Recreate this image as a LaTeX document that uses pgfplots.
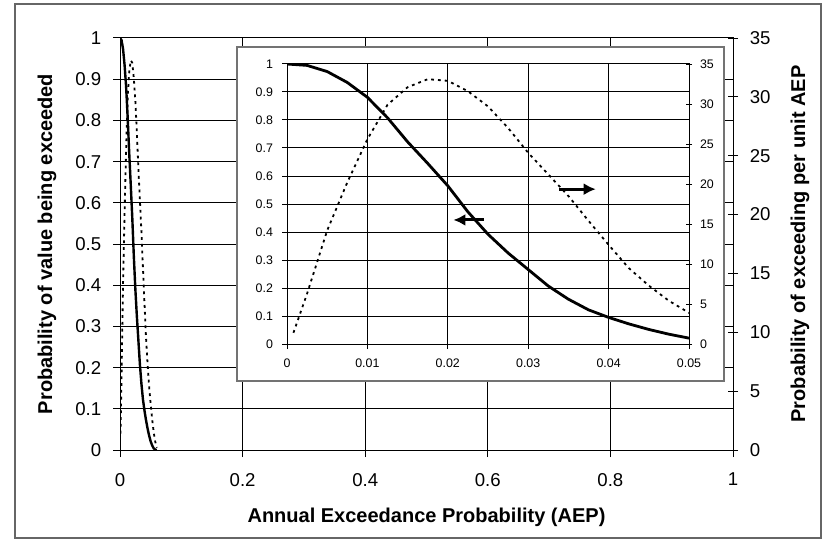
\documentclass[border=0pt]{standalone}
\usepackage{fontspec}
\setmainfont{Liberation Sans}
\usepackage{pgfplots}
\pgfplotsset{compat=1.18}
\usepackage{pgfplotstable}
\usetikzlibrary{arrows.meta}

% exceedance probability (left scale)
\pgfplotstableread{
aep p
0      1.000
0.0025 0.995
0.005  0.973
0.0075 0.934
0.01   0.881
0.0125 0.808
0.015  0.722
0.0175 0.645
0.02   0.565
0.0225 0.472
0.025  0.392
0.0275 0.325
0.03   0.266
0.0325 0.207
0.035  0.160
0.0375 0.122
0.04   0.095
0.0425 0.072
0.045  0.052
0.0475 0.035
0.05   0.021
0.0525 0.011
0.055  0.004
0.0575 0.001
0.06   0
}\exceed

% probability per unit AEP (right scale)
\pgfplotstableread{
aep d
0.0008 1.4
0.0025 6.3
0.005  14.2
0.0075 20.2
0.01   25.6
0.0125 29.9
0.015  32.1
0.0175 33.1
0.02   32.9
0.0225 31.6
0.025  29.7
0.0275 27.0
0.03   23.9
0.0325 21.2
0.035  18.5
0.0375 15.4
0.04   12.4
0.0425 9.5
0.045  7.3
0.0475 5.4
0.05   3.9
0.0525 2.6
0.055  1.5
0.0575 0.7
0.06   0.2
}\density

\pgfplotsset{
  /pgf/number format/assume math mode=true,
  dotline/.style={black, line width=0.9pt, dash pattern=on 1.4pt off 2pt},
}

\begin{document}
\begin{tikzpicture}
\useasboundingbox (-60pt,-45.5pt) rectangle (352pt,225pt);

% main chart, left scale
\begin{axis}[
  width=306.5pt, height=206pt, scale only axis,
  xmin=0, xmax=1, ymin=0, ymax=1,
  scaled x ticks=false, scaled y ticks=false,
  xtick={0,0.2,0.4,0.6,0.8,1},
  xticklabels={0,0.2,0.4,0.6,0.8,1},
  ytick={0,0.1,0.2,0.3,0.4,0.5,0.6,0.7,0.8,0.9,1},
  yticklabels={0,0.1,0.2,0.3,0.4,0.5,0.6,0.7,0.8,0.9,1},
  xtick pos=left, ytick pos=left,
  tick align=outside, major tick length=3.5pt,
  tick style={black, line width=0.5pt},
  axis line style={black, line width=0.5pt},
  grid=major, major grid style={black, line width=0.5pt},
  ticklabel style={font=\fontsize{9.3}{11}\selectfont},
  xticklabel style={yshift=-4.5pt},
  yticklabel style={xshift=-2.4pt},
  label style={font=\bfseries\fontsize{10}{12}\selectfont},
  xlabel={Annual Exceedance Probability (AEP)},
  ylabel={Probability of value being exceeded},
  xlabel style={at={(axis description cs:0.5,-0.1626)}, anchor=center},
  ylabel style={at={(axis description cs:-0.1191,0.5)}, anchor=center},
]
\addplot[black, line width=1.2pt] table[x=aep, y=p] {\exceed};
\end{axis}

% main chart, right scale
\begin{axis}[
  width=306.5pt, height=206pt, scale only axis,
  xmin=0, xmax=1, ymin=0, ymax=35,
  axis x line=none, axis y line*=right,
  ytick={0,5,10,15,20,25,30,35},
  ytick pos=right,
  tick align=center, major tick length=5pt,
  tick style={black, line width=0.5pt},
  axis line style={black, line width=0.5pt},
  ticklabel style={font=\fontsize{9.3}{11}\selectfont},
  yticklabel style={xshift=2.4pt},
  label style={font=\bfseries\fontsize{10}{12}\selectfont},
  ylabel={Probability of exceeding per unit AEP},
  ylabel style={at={(axis description cs:1.1093,0.5)}, anchor=center},
]
\addplot[dotline] table[x=aep, y=d] {\density};
\end{axis}

% inset frame
\draw[fill=white, draw=black!55, line width=0.6pt] (58.5pt,34.5pt) rectangle (302pt,201.5pt);

% inset, left scale
\begin{axis}[
  at={(83.5pt,53pt)}, anchor=south west,
  width=201pt, height=140pt, scale only axis,
  xmin=0, xmax=0.05, ymin=0, ymax=1,
  scaled x ticks=false, scaled y ticks=false,
  xtick={0,0.01,0.02,0.03,0.04,0.05},
  xticklabels={0,0.01,0.02,0.03,0.04,0.05},
  ytick={0,0.1,0.2,0.3,0.4,0.5,0.6,0.7,0.8,0.9,1},
  yticklabels={0,0.1,0.2,0.3,0.4,0.5,0.6,0.7,0.8,0.9,1},
  xtick pos=left, ytick pos=left,
  tick align=outside, major tick length=2.5pt,
  tick style={black, line width=0.5pt},
  axis line style={black, line width=0.5pt},
  grid=major, major grid style={black, line width=0.5pt},
  ticklabel style={font=\fontsize{6.2}{7}\selectfont},
  xticklabel style={yshift=-1.5pt},
  yticklabel style={xshift=-1pt},
]
\addplot[black, line width=1.4pt] table[x=aep, y=p] {\exceed};
\draw[black, line width=1.5pt, -{Latex[length=6pt,width=6pt]}]
  (axis cs:0.0245,0.443) -- (axis cs:0.0207,0.443);
\draw[black, line width=1.5pt, -{Latex[length=6pt,width=6pt]}]
  (axis cs:0.0338,0.553) -- (axis cs:0.0384,0.553);
\end{axis}

% inset, right scale
\begin{axis}[
  at={(83.5pt,53pt)}, anchor=south west,
  width=201pt, height=140pt, scale only axis,
  xmin=0, xmax=0.05, ymin=0, ymax=35,
  axis x line=none, axis y line*=right,
  ytick={0,5,10,15,20,25,30,35},
  ytick pos=right,
  tick align=center, major tick length=3pt,
  tick style={black, line width=0.5pt},
  axis line style={black, line width=0.5pt},
  ticklabel style={font=\fontsize{6.2}{7}\selectfont},
  yticklabel style={xshift=0.5pt},
]
\addplot[dotline] table[x=aep, y=d] {\density};
\end{axis}

% outer chart border
\draw[black!60, line width=0.6pt] (-52.5pt,-44pt) rectangle (350.5pt,223pt);
\end{tikzpicture}
\end{document}
